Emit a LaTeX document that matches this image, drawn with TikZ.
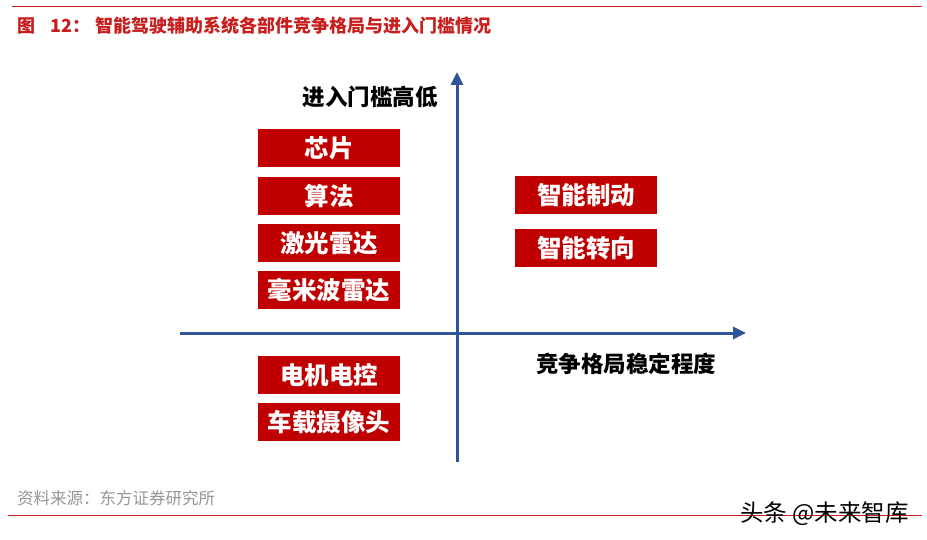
\documentclass[tikz,border=0pt]{standalone}
\usepackage{fontspec}
\setmainfont{Noto Sans CJK SC}
\usetikzlibrary{arrows.meta}
\definecolor{boxred}{RGB}{192,0,0}
\definecolor{titlered}{RGB}{200,30,30}
\definecolor{axisblue}{RGB}{47,85,151}
\definecolor{srcgray}{RGB}{150,150,150}
\begin{document}
\begin{tikzpicture}[x=1pt,y=-1pt,
  redbox/.style={fill=boxred,draw=none,minimum width=142pt,minimum height=38pt,inner sep=0pt,
    text=white,font=\fontsize{24.5}{26}\selectfont\bfseries},
  axislabel/.style={font=\fontsize{22.5}{24}\selectfont\bfseries,text=black,inner sep=0pt},
  axisline/.style={draw=axisblue,line width=3pt,-{Triangle[length=13pt,width=12pt]}},
  rule/.style={draw=titlered,line width=1pt}]
\useasboundingbox (0,0) rectangle (927,540);
\fill[white] (0,0) rectangle (927,540);
% top and bottom rules
\coordinate (tl) at (12,7); \coordinate (tr) at (922,7);
\draw[rule] (tl) -- (tr);
\coordinate (bl) at (8,515); \coordinate (br) at (922,515);
\draw[rule] (bl) -- (br);
% title
\node[anchor=west,inner sep=0pt,text=titlered,font=\fontsize{18}{20}\selectfont\bfseries] (title) at (17,26) {图\hspace{0.85em}12：\hspace{5pt}智能驾驶辅助系统各部件竞争格局与进入门槛情况};
% axes
\coordinate (vb) at (457,462); \coordinate (vt) at (457,72);
\coordinate (hl) at (180,333); \coordinate (hr) at (746,333);
\draw[axisline] (vb) -- (vt);
\draw[axisline] (hl) -- (hr);
\node[axislabel,anchor=east] (ylab) at (438,97) {进入门槛高低};
\node[axislabel,anchor=west] (xlab) at (536,364) {竞争格局稳定程度};
% boxes
\node[redbox] (chip) at (329,148.5) {芯片};
\node[redbox] (algo) at (329,196) {算法};
\node[redbox] (lidar) at (329,243) {激光雷达};
\node[redbox] (mmw) at (329,290.5) {毫米波雷达};
\node[redbox] (motor) at (329,375) {电机电控};
\node[redbox] (cam) at (329,422) {车载摄像头};
\node[redbox] (brake) at (586,195) {智能制动};
\node[redbox] (steer) at (586,248) {智能转向};
% source
\node[anchor=west,inner sep=0pt,text=srcgray,font=\fontsize{16.5}{18}\selectfont] (src) at (17,498) {资料来源：东方证券研究所};
% watermark
\node[anchor=west,inner sep=0pt,text=black,font=\fontsize{23.5}{25}\selectfont] (wm) at (740,514) {头条 @未来智库};
\end{tikzpicture}
\end{document}
